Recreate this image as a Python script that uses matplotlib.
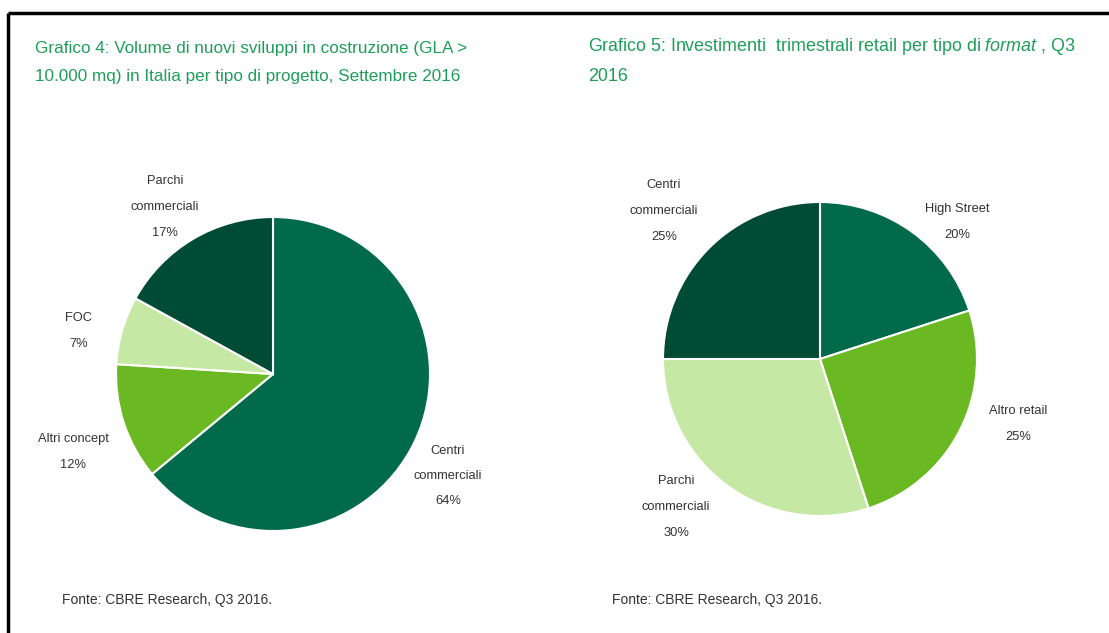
"""Two pie charts: new retail developments and quarterly retail investments (CBRE, Q3 2016)."""

import matplotlib
matplotlib.use("Agg")
import matplotlib.pyplot as plt

W, H = 1109, 633

# --- Grafico 4 ---
left_labels = ["Centri\ncommerciali", "Altri concept", "FOC", "Parchi\ncommerciali"]
left_values = [64, 12, 7, 17]
left_colors = ["#006a4b", "#6ab923", "#c5e9a4", "#004b33"]

# --- Grafico 5 ---
right_labels = ["High Street", "Altro retail", "Parchi\ncommerciali", "Centri\ncommerciali"]
right_values = [20, 25, 30, 25]
right_colors = ["#006a4b", "#6ab923", "#c5e9a4", "#004b33"]

title_left = ("Grafico 4: Volume di nuovi sviluppi in costruzione (GLA >\n"
              "10.000 mq) in Italia per tipo di progetto, Settembre 2016")
title_right = ("Grafico 5: Investimenti  trimestrali retail per tipo di $\\it{format}$ , Q3\n"
               "2016")
source = "Fonte: CBRE Research, Q3 2016."

FONT = ["Liberation Sans", "DejaVu Sans"]
GREEN = "#1f9e5a"
GREY = "#333333"

plt.rcParams["mathtext.fontset"] = "custom"
plt.rcParams["mathtext.rm"] = "Liberation Sans"
plt.rcParams["mathtext.it"] = "Liberation Sans:italic"


def draw_pie(ax, values, labels, colors, center, label_pos):
    ax.pie(values, colors=colors, startangle=90, counterclock=False,
           center=center, radius=157,
           wedgeprops=dict(edgecolor="white", linewidth=1.5))
    for lab, val, (x, y) in zip(labels, values, label_pos):
        ax.text(x, H - y, f"{lab}\n{val}%", ha="center", va="center",
                fontsize=9.3, color=GREY, family=FONT, linespacing=2.5)


def main():
    fig = plt.figure(figsize=(W / 100, H / 100), dpi=100)
    ax = fig.add_axes([0, 0, 1, 1])

    draw_pie(ax, left_values, left_labels, left_colors, (273, H - 374),
             [(448, 476), (73, 452), (79, 331), (165, 207)])
    draw_pie(ax, right_values, right_labels, right_colors, (820, H - 359),
             [(957, 222), (1018, 424), (676, 507), (664, 211)])

    ax.set_xlim(0, W)
    ax.set_ylim(0, H)
    ax.set_aspect("auto")
    ax.axis("off")

    # titles
    ax.text(35, H - 62.5, title_left, ha="left", va="center", fontsize=12.3,
            color=GREEN, family=FONT, linespacing=2.1)
    ax.text(588, H - 60.5, title_right, ha="left", va="center", fontsize=12.9,
            color=GREEN, family=FONT, linespacing=1.85)

    # sources
    ax.text(62, H - 600, source, ha="left", va="center", fontsize=10,
            color=GREY, family=FONT)
    ax.text(612, H - 600, source, ha="left", va="center", fontsize=10,
            color=GREY, family=FONT)

    # frame (top and left edges only)
    ax.plot([8, W], [H - 13, H - 13], color="black", lw=2.5, solid_capstyle="butt")
    ax.plot([8, 8], [H - 13, 0], color="black", lw=2.5, solid_capstyle="butt")

    fig.savefig("out.png", dpi=100)


if __name__ == "__main__":
    main()
